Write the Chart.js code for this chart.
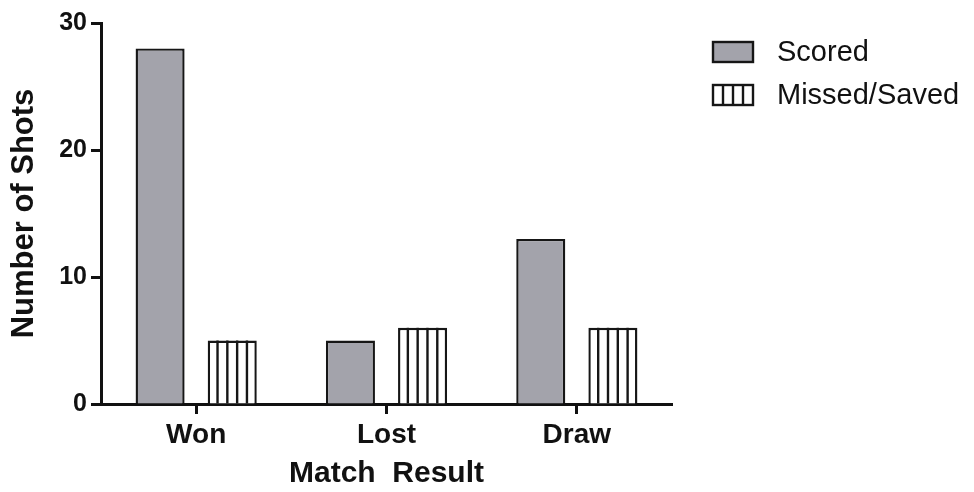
<!DOCTYPE html>
<html>
<head>
<meta charset="utf-8">
<script src="https://cdn.jsdelivr.net/npm/chart.js@4"></script>
<style>
  html, body { margin: 0; padding: 0; background: #fff; }
  #wrap { width: 974px; height: 492px; }
</style>
</head>
<body>
<div id="wrap"><canvas id="shotsChart" width="974" height="492"></canvas></div>
<script>
const categories = ['Won', 'Lost', 'Draw'];
const scored = [28, 5, 13];
const missedSaved = [5, 6, 6];
const yTicks = [0, 10, 20, 30];

const FONT = "'Liberation Sans', Arial, Helvetica, sans-serif";
const GREY = '#a3a3ab';
const EDGE = '#161616';

// vertical hatching inside the Missed/Saved bars
const stripes = {
    id: 'stripes',
    afterDatasetsDraw(chart) {
        const ctx = chart.ctx;
        const meta = chart.getDatasetMeta(1);
        ctx.save();
        ctx.strokeStyle = EDGE;
        ctx.lineWidth = 2.4;
        meta.data.forEach(bar => {
            const left = bar.x - bar.width / 2;
            for (let k = 1; k < 5; k++) {
                const x = left + bar.width * k / 5;
                ctx.beginPath();
                ctx.moveTo(x, bar.y);
                ctx.lineTo(x, bar.base);
                ctx.stroke();
            }
        });
        ctx.restore();
    }
};

// legend at the top right
const sideLegend = {
    id: 'sideLegend',
    afterDraw(chart) {
        const ctx = chart.ctx;
        const x0 = chart.chartArea.right + 41;
        const rows = [42, 85];
        ctx.save();
        ctx.font = '29px ' + FONT;
        ctx.textBaseline = 'middle';
        chart.data.datasets.forEach((ds, i) => {
            const y = rows[i];
            const w = 40, h = 20;
            ctx.fillStyle = i === 0 ? GREY : '#fff';
            ctx.fillRect(x0, y, w, h);
            ctx.strokeStyle = EDGE;
            ctx.lineWidth = 2.4;
            ctx.strokeRect(x0, y, w, h);
            if (i === 1) {
                for (let k = 1; k < 4; k++) {
                    ctx.beginPath();
                    ctx.moveTo(x0 + w * k / 4, y);
                    ctx.lineTo(x0 + w * k / 4, y + h);
                    ctx.stroke();
                }
            }
            ctx.fillStyle = '#111';
            ctx.fillText(ds.label, x0 + 64, y + h / 2 + 1);
        });
        ctx.restore();
    }
};

const ctx = document.getElementById('shotsChart').getContext('2d');
new Chart(ctx, {
    type: 'bar',
    data: {
        labels: categories,
        datasets: [{
            label: 'Scored',
            data: scored,
            backgroundColor: GREY,
            borderColor: EDGE,
            borderWidth: 2.4
        }, {
            label: 'Missed/Saved',
            data: missedSaved,
            backgroundColor: '#fff',
            borderColor: EDGE,
            borderWidth: 2.4
        }]
    },
    options: {
        responsive: false,
        animation: false,
        categoryPercentage: 0.758,
        barPercentage: 0.68,
        layout: { padding: { top: 23, right: 302, left: 0, bottom: 0 } },
        plugins: {
            legend: { display: false },
            tooltip: { enabled: false }
        },
        scales: {
            x: {
                grid: { offset: false, drawOnChartArea: false, tickLength: 10, tickWidth: 3, tickColor: '#111' },
                border: { color: '#111', width: 3 },
                ticks: { color: '#111', padding: 4, font: { family: FONT, size: 28, weight: 'bold' } },
                title: { display: true, text: 'Match  Result', color: '#111', padding: { top: 0, bottom: 0 },
                         font: { family: FONT, size: 30, weight: 'bold' } },
                afterFit(scale) { scale.height = 88; }
            },
            y: {
                min: 0,
                max: 30,
                afterBuildTicks(scale) { scale.ticks = yTicks.map(v => ({ value: v })); },
                grid: { drawOnChartArea: false, tickLength: 10, tickWidth: 3, tickColor: '#111' },
                border: { color: '#111', width: 3 },
                ticks: { color: '#111', padding: 4, font: { family: FONT, size: 25, weight: 'bold' } },
                title: { display: true, text: 'Number of Shots', color: '#111', padding: { top: 6, bottom: 0 },
                         font: { family: FONT, size: 31, weight: 'bold' } },
                afterFit(scale) { scale.width = 101; }
            }
        }
    },
    plugins: [stripes, sideLegend]
});
</script>
</body>
</html>
